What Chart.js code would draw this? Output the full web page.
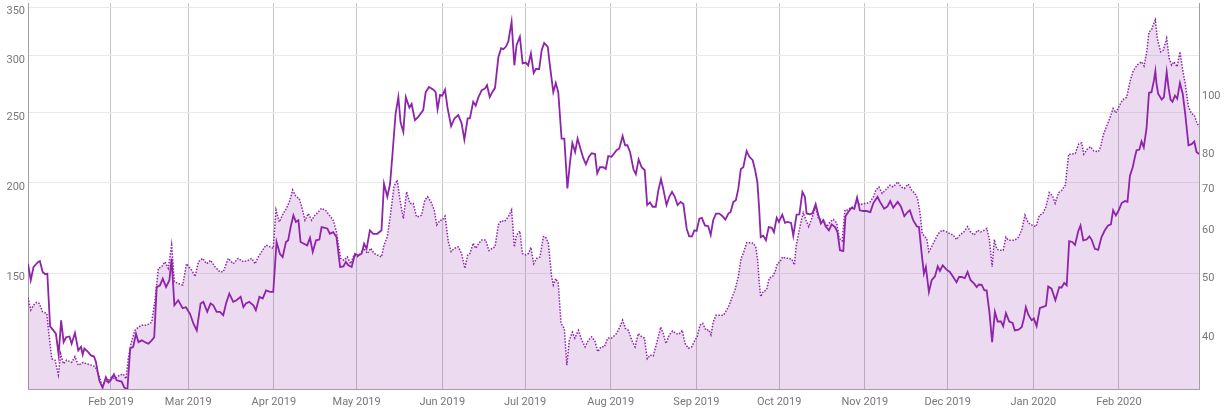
<!DOCTYPE html>
<html>
<head>
<meta charset="utf-8">
<script src="https://cdn.jsdelivr.net/npm/chart.js@4.4.1/dist/chart.umd.min.js"></script>
<style>
  html, body { margin: 0; padding: 0; background: #fff; }
  #wrap { width: 1224px; height: 411px; position: relative; }
</style>
</head>
<body>
<div id="wrap"><canvas id="graph"></canvas></div>
<script>
// x values are days counted from 1 Jan 2019 (day 1 = 2 Jan 2019)
const solidDays = [
  1.0, 2.0, 3.0, 4.7, 5.3, 6.3, 7.2, 8.0, 9.0, 10.2, 11.1, 12.1, 13.0, 13.9, 14.8, 16.0, 16.8, 18.0, 19.2, 20.2,
  20.8, 21.4, 22.8, 23.8, 24.9, 25.6, 26.8, 28.0, 29.2, 30.1, 30.9, 32.1, 33.1, 34.9, 35.8, 36.5, 37.0, 38.0, 39.1, 40.1,
  41.0, 42.2, 43.7, 44.6, 45.8, 46.7, 47.6, 48.8, 49.8, 51.0, 52.2, 53.0, 54.0, 55.4, 57.0, 58.2, 59.7, 60.9, 62.1, 63.5,
  64.5, 65.9, 67.1, 68.1, 69.3, 70.5, 71.7, 72.7, 73.9, 75.3, 76.5, 78.0, 79.0, 79.9, 81.1, 82.6, 83.5, 84.8, 86.0, 87.2,
  88.6, 89.8, 91.0, 92.2, 93.2, 94.4, 95.2, 96.1, 97.1, 98.0, 98.9, 99.7, 100.9, 102.1, 103.1, 104.1, 105.3, 106.5, 107.3, 108.5,
  109.4, 110.3, 111.5, 112.7, 114.0, 115.2, 116.1, 117.0, 118.2, 119.4, 120.6, 121.8, 122.7, 123.6, 124.8, 126.0, 127.5, 129.0, 129.9, 131.1,
  132.1, 133.0, 134.1, 135.1, 135.9, 136.9, 137.8, 139.1, 139.9, 141.1, 142.3, 144.1, 145.0, 146.2, 147.8, 148.6, 149.3, 150.2, 151.0, 152.0,
  152.9, 154.2, 155.4, 156.8, 158.0, 159.0, 160.2, 161.0, 162.2, 163.1, 164.1, 165.3, 166.5, 167.2, 168.2, 169.1, 170.1, 171.3, 172.3, 173.1,
  174.0, 174.9, 176.1, 177.1, 177.9, 179.1, 180.1, 181.2, 182.1, 183.1, 184.1, 184.9, 186.1, 187.0, 187.9, 189.2, 190.0, 191.2, 192.1, 193.0,
  194.2, 195.2, 196.3, 197.2, 198.1, 199.1, 200.0, 201.2, 202.1, 203.0, 204.1, 205.1, 206.3, 207.1, 208.1, 209.3, 210.2, 211.1, 212.3, 214.1,
  215.1, 216.3, 217.2, 218.0, 219.0, 220.2, 221.1, 222.1, 223.2, 224.3, 225.2, 226.2, 227.2, 228.3, 229.2, 230.2, 231.0, 232.2, 233.2, 234.2,
  235.2, 236.2, 237.3, 238.3, 239.5, 240.4, 241.4, 242.3, 243.1, 244.1, 245.0, 246.1, 247.3, 248.2, 249.1, 250.1, 251.3, 252.5, 253.5, 254.6,
  255.4, 256.4, 257.3, 258.2, 259.1, 260.0, 261.2, 262.2, 263.4, 264.3, 265.1, 265.7, 266.3, 267.2, 268.2, 269.2, 270.3, 271.1, 272.1, 272.9,
  274.1, 275.1, 276.0, 277.3, 278.1, 279.3, 280.3, 281.4, 282.3, 282.9, 284.1, 285.0, 286.2, 287.2, 288.1, 289.0, 289.8, 291.0, 292.0, 293.2,
  294.1, 295.0, 296.2, 297.0, 298.0, 299.2, 300.2, 301.2, 302.2, 303.4, 304.6, 306.0, 307.1, 308.6, 309.5, 311.0, 312.2, 313.2, 314.3, 315.9,
  317.1, 318.3, 319.5, 320.3, 321.5, 322.8, 323.6, 324.6, 325.4, 326.1, 327.2, 328.2, 329.4, 330.4, 331.2, 332.2, 333.6, 334.8, 336.0, 337.2,
  338.1, 339.0, 340.2, 341.2, 342.3, 343.6, 344.5, 345.3, 346.3, 347.3, 348.1, 349.1, 350.1, 351.1, 352.1, 353.3, 354.1, 355.1, 356.3, 357.5,
  358.3, 359.6, 360.8, 361.6, 362.3, 363.3, 364.4, 365.2, 366.2, 367.4, 368.6, 369.6, 370.4, 371.6, 373.0, 374.4, 375.2, 376.2, 377.1, 378.0,
  379.1, 380.1, 381.3, 382.1, 383.1, 384.3, 385.3, 386.1, 387.3, 388.5, 389.7, 390.9, 392.1, 393.1, 393.9, 394.9, 395.8, 397.0, 398.2, 399.1,
  400.0, 401.0, 401.8, 402.4, 403.4, 404.2, 405.0, 406.0, 406.9, 407.8, 408.7, 409.2, 409.6, 410.2, 411.5, 412.3, 413.3, 414.0, 414.7, 415.4,
  416.3, 417.1, 418.1, 419.1, 420.0, 421.2, 422.3, 423.3, 424.1, 425.0
];
const solidValues = [
  154.5, 146.6, 152.9, 155.4, 155.8, 150.5, 149.4, 149.7, 126.5, 124.9, 123.6, 115.6, 129.0, 120.3, 122.2, 122.5, 119.7, 123.9, 117.2, 118.5,
  115.6, 117.9, 116.5, 115.3, 114.9, 112.9, 106.5, 104.0, 107.6, 105.8, 106.5, 108.6, 106.5, 106.1, 104.2, 103.6, 103.6, 117.9, 118.5, 123.6,
  120.3, 121.0, 120.1, 119.7, 121.0, 122.2, 143.4, 144.2, 147.3, 143.4, 146.6, 157.0, 135.3, 137.5, 134.1, 134.5, 131.6, 127.6, 124.9, 136.1,
  136.8, 132.5, 136.1, 135.3, 132.5, 132.5, 131.1, 136.1, 140.4, 136.8, 137.5, 139.0, 134.5, 136.1, 136.8, 135.3, 133.2, 139.0, 138.3, 141.9,
  141.2, 141.2, 165.6, 159.5, 157.8, 165.6, 166.5, 173.7, 180.3, 176.6, 177.5, 165.6, 164.7, 163.8, 167.8, 160.4, 166.5, 166.9, 173.7, 173.3,
  172.8, 170.0, 170.9, 168.2, 152.9, 153.2, 155.4, 153.7, 152.9, 159.5, 158.6, 159.5, 164.7, 162.0, 171.9, 170.0, 170.0, 171.9, 199.4, 191.3,
  199.4, 219.8, 249.5, 262.9, 242.6, 235.3, 262.9, 254.3, 257.2, 244.3, 246.9, 252.2, 267.1, 271.6, 269.2, 267.1, 253.0, 264.8, 264.2, 269.2,
  254.3, 239.6, 245.6, 248.3, 241.8, 229.6, 245.6, 245.6, 259.0, 255.9, 262.9, 268.8, 270.3, 273.1, 262.9, 267.1, 270.8, 298.3, 307.3, 306.4,
  308.7, 313.7, 334.3, 291.0, 310.3, 318.8, 292.8, 293.5, 291.0, 302.2, 283.9, 287.6, 287.6, 305.4, 312.6, 308.7, 290.3, 267.1, 275.1, 267.1,
  230.3, 230.3, 196.4, 212.6, 227.1, 220.7, 230.3, 221.9, 216.2, 212.3, 217.3, 219.8, 219.3, 206.1, 210.2, 210.2, 209.0, 217.8, 217.3, 221.9,
  223.2, 232.3, 225.5, 225.5, 220.7, 209.0, 205.6, 215.5, 210.2, 208.2, 186.3, 187.9, 185.3, 185.3, 194.9, 202.5, 196.3, 186.3, 191.3, 194.3,
  191.3, 186.3, 188.2, 186.9, 172.8, 168.6, 168.6, 171.9, 171.6, 178.4, 178.8, 174.6, 174.1, 169.4, 177.5, 181.3, 181.3, 179.8, 177.9, 181.3,
  182.2, 188.2, 189.2, 196.3, 209.0, 210.2, 221.3, 217.3, 215.0, 208.2, 200.4, 185.3, 168.2, 169.0, 166.5, 173.7, 173.3, 170.9, 179.0, 176.6,
  180.7, 176.0, 176.6, 176.0, 169.0, 180.7, 180.8, 194.3, 191.3, 181.4, 180.9, 181.4, 186.9, 180.3, 175.6, 177.5, 174.1, 171.9, 175.2, 173.7,
  170.9, 161.3, 160.9, 179.8, 182.2, 184.7, 184.1, 190.9, 183.2, 182.8, 182.8, 182.2, 187.5, 191.3, 188.2, 184.1, 185.5, 188.7, 184.7, 188.2,
  185.3, 179.8, 182.2, 183.2, 177.5, 174.1, 173.7, 159.4, 149.7, 152.9, 141.2, 146.6, 148.4, 153.2, 151.0, 153.7, 151.6, 150.5, 148.1, 145.7,
  148.1, 148.1, 147.6, 150.5, 146.6, 145.0, 143.4, 144.6, 144.4, 141.9, 141.9, 132.5, 120.3, 132.5, 128.5, 128.5, 126.6, 132.0, 128.5, 127.9,
  124.9, 125.2, 126.2, 129.7, 134.5, 131.1, 129.0, 129.7, 126.6, 134.2, 134.6, 135.2, 143.7, 142.7, 137.5, 143.4, 143.1, 145.3, 144.2, 166.0,
  165.6, 164.1, 171.5, 174.6, 166.5, 166.9, 168.6, 166.9, 162.0, 161.5, 168.2, 171.9, 174.6, 175.2, 183.2, 180.3, 182.8, 187.5, 188.7, 188.2,
  204.6, 210.2, 217.3, 221.9, 222.4, 228.2, 224.0, 237.9, 266.6, 267.1, 277.5, 285.7, 274.6, 265.8, 260.9, 262.9, 284.8, 270.3, 260.9, 259.0,
  264.2, 261.6, 275.1, 265.8, 249.5, 225.5, 226.3, 228.2, 220.7, 219.3
];

const dottedDays = [
  1.0, 2.0, 3.0, 4.1, 5.1, 6.3, 7.8, 8.7, 9.6, 10.8, 12.0, 12.8, 13.8, 15.0, 16.8, 18.0, 19.2, 21.0, 22.2, 24.0,
  25.3, 26.5, 27.7, 28.9, 30.1, 31.3, 32.5, 34.3, 35.5, 36.5, 37.3, 38.3, 39.7, 41.0, 42.2, 44.0, 45.8, 47.0, 48.2, 49.4,
  50.6, 51.8, 53.0, 54.0, 55.4, 57.0, 58.4, 60.3, 61.5, 62.7, 64.2, 65.7, 67.1, 68.7, 70.5, 71.7, 73.5, 75.3, 77.1, 79.0,
  80.8, 82.0, 83.2, 84.4, 85.6, 87.2, 88.6, 89.8, 90.8, 92.0, 93.4, 94.6, 95.9, 96.8, 98.0, 99.2, 100.1, 101.3, 102.5, 103.7,
  104.9, 106.1, 107.3, 108.9, 110.1, 111.5, 112.7, 114.2, 115.4, 116.6, 117.8, 119.0, 120.2, 121.4, 122.6, 123.9, 125.1, 126.3, 127.5, 129.0,
  129.9, 131.1, 132.3, 133.5, 134.7, 135.7, 136.9, 138.1, 139.3, 140.5, 141.7, 142.9, 143.5, 144.7, 145.7, 146.9, 148.1, 149.0, 150.2, 151.0,
  152.0, 153.2, 154.2, 155.4, 156.8, 158.0, 159.2, 160.2, 161.0, 162.2, 163.1, 164.3, 165.3, 166.7, 167.9, 169.1, 170.1, 171.3, 172.3, 173.5,
  174.9, 176.1, 177.1, 177.9, 179.1, 180.0, 181.2, 182.2, 183.1, 184.1, 185.2, 186.4, 187.6, 188.4, 189.4, 190.6, 191.2, 192.1, 193.0, 194.0,
  195.2, 196.1, 197.0, 198.1, 199.0, 200.3, 201.5, 202.7, 203.9, 205.1, 206.3, 207.3, 208.5, 209.7, 210.9, 212.3, 214.1, 215.3, 216.3, 217.3,
  218.4, 219.6, 220.8, 222.0, 223.2, 224.2, 225.2, 226.2, 227.4, 228.6, 230.1, 231.0, 232.0, 233.2, 234.4, 235.6, 236.7, 237.9, 238.9, 240.1,
  241.3, 242.5, 243.3, 244.3, 245.3, 246.5, 247.4, 248.3, 249.1, 250.1, 251.3, 252.8, 254.0, 254.9, 255.8, 257.0, 258.2, 259.2, 260.0, 261.2,
  262.4, 263.6, 264.5, 265.2, 265.8, 266.3, 267.2, 268.4, 269.4, 270.6, 271.5, 272.3, 273.3, 274.2, 275.4, 276.6, 277.6, 278.5, 279.1, 280.0,
  281.0, 281.7, 282.7, 283.7, 285.0, 286.2, 287.2, 288.1, 289.1, 290.2, 291.4, 292.6, 293.8, 294.8, 295.8, 296.8, 297.8, 299.0, 300.2, 301.1,
  302.2, 303.4, 304.6, 305.9, 307.1, 308.0, 309.1, 310.3, 311.5, 313.1, 314.3, 315.9, 317.1, 318.3, 319.7, 320.9, 322.1, 323.1, 324.0, 324.8,
  325.8, 326.4, 327.2, 328.2, 329.4, 330.6, 332.0, 333.6, 334.8, 336.0, 337.2, 338.4, 339.9, 341.2, 342.3, 343.6, 344.8, 346.0, 347.3, 348.2,
  349.1, 350.1, 350.9, 351.8, 352.9, 354.1, 355.1, 355.9, 357.1, 358.4, 359.6, 360.8, 362.0, 363.2, 364.4, 366.0, 367.2, 368.4, 369.6, 370.8,
  372.0, 372.9, 374.2, 375.4, 376.6, 377.8, 379.0, 380.2, 381.4, 382.5, 383.3, 384.5, 385.7, 386.9, 388.5, 389.4, 390.3, 391.5, 392.7, 393.9,
  394.9, 396.1, 397.3, 398.8, 400.0, 401.2, 402.6, 404.2, 405.1, 406.0, 406.9, 407.8, 408.4, 409.2, 409.9, 411.1, 412.1, 413.3, 414.2, 415.1,
  415.9, 417.1, 418.1, 419.1, 420.0, 421.2, 422.3, 423.3, 424.1, 425.0
];
const dottedValues = [
  46.4, 44.3, 45.1, 45.6, 45.4, 44.0, 43.7, 40.0, 36.8, 36.6, 34.6, 37.5, 36.1, 36.6, 36.3, 37.1, 35.9, 36.3, 36.1, 35.9,
  35.7, 34.8, 33.3, 33.7, 33.9, 34.3, 34.1, 34.6, 34.7, 34.1, 36.8, 39.0, 41.0, 41.5, 41.8, 41.8, 42.3, 46.0, 51.9, 52.2,
  53.2, 51.9, 56.7, 49.3, 49.0, 48.7, 52.8, 51.5, 50.3, 53.2, 53.9, 52.8, 53.5, 52.2, 51.2, 51.2, 53.9, 52.8, 53.9, 53.2,
  53.5, 53.9, 52.8, 54.2, 55.3, 56.7, 56.3, 56.0, 64.8, 61.9, 63.9, 65.2, 67.3, 69.9, 68.2, 67.7, 65.6, 62.3, 63.9, 62.3,
  63.5, 64.3, 65.2, 64.6, 63.5, 62.3, 59.6, 53.9, 53.5, 54.2, 52.8, 54.6, 54.2, 54.9, 56.0, 54.9, 56.0, 54.9, 54.6, 54.2,
  56.7, 58.5, 63.9, 70.8, 72.6, 67.3, 62.7, 69.4, 66.4, 66.4, 63.1, 63.3, 63.5, 67.3, 68.1, 66.8, 64.8, 61.2, 62.3, 62.3,
  63.3, 57.4, 55.3, 56.0, 56.3, 54.9, 51.9, 54.6, 54.9, 57.1, 56.0, 57.1, 57.8, 57.8, 55.5, 56.0, 56.3, 61.2, 62.2, 62.0,
  63.1, 64.8, 56.3, 58.9, 59.8, 54.9, 54.6, 54.9, 56.2, 52.8, 53.9, 54.2, 58.5, 58.5, 57.1, 50.3, 48.7, 49.9, 49.0, 42.1,
  41.3, 35.9, 39.5, 40.7, 39.8, 41.0, 39.5, 38.5, 39.5, 40.0, 39.3, 37.8, 38.5, 38.5, 39.8, 39.8, 40.5, 41.5, 42.6, 41.3,
  41.0, 39.5, 38.5, 40.5, 40.0, 39.8, 36.8, 37.3, 37.2, 39.0, 41.5, 40.5, 39.0, 40.3, 40.9, 40.5, 40.4, 41.0, 39.0, 38.3,
  38.5, 39.5, 40.0, 41.8, 42.1, 41.0, 41.1, 40.3, 42.3, 43.4, 43.4, 43.4, 44.3, 45.1, 46.3, 47.8, 50.3, 53.9, 54.9, 57.2,
  57.2, 57.1, 56.3, 53.5, 49.0, 46.6, 47.5, 47.8, 50.0, 50.3, 51.2, 52.8, 53.2, 54.2, 53.9, 53.9, 53.7, 52.6, 56.3, 59.2,
  62.3, 64.1, 62.3, 60.8, 63.1, 65.6, 62.7, 62.5, 62.2, 60.8, 61.9, 62.5, 61.7, 58.1, 57.6, 64.8, 64.8, 65.4, 65.6, 67.4,
  66.0, 66.4, 66.4, 66.8, 68.1, 69.9, 70.7, 69.0, 69.9, 71.2, 70.7, 72.1, 70.7, 70.3, 71.5, 69.9, 69.0, 67.7, 64.0, 59.2,
  58.5, 58.1, 55.3, 56.3, 57.8, 59.2, 60.0, 59.6, 59.2, 58.9, 57.9, 58.9, 59.6, 60.8, 59.6, 58.9, 60.0, 59.6, 60.0, 60.4,
  57.9, 52.2, 57.9, 55.8, 55.6, 55.6, 58.4, 57.8, 57.7, 57.8, 58.4, 60.0, 63.5, 61.7, 61.2, 60.8, 63.5, 63.9, 65.6, 69.2,
  68.3, 66.5, 69.2, 69.9, 71.2, 80.1, 80.1, 80.3, 83.2, 83.6, 80.1, 81.6, 82.4, 81.1, 80.8, 82.4, 86.1, 88.9, 91.8, 95.3,
  93.7, 96.2, 98.4, 99.4, 105.5, 110.0, 112.4, 113.8, 112.0, 117.5, 127.5, 128.4, 130.9, 133.4, 124.4, 118.2, 119.0, 124.4, 115.3, 112.4,
  113.8, 111.7, 118.2, 110.3, 104.8, 95.9, 93.5, 92.9, 90.6, 88.9
];

const monthDays = [31, 59, 90, 120, 151, 181, 212, 243, 273, 304, 334, 365, 396];
const monthLabels = ['Feb 2019', 'Mar 2019', 'Apr 2019', 'May 2019', 'Jun 2019', 'Jul 2019', 'Aug 2019',
  'Sep 2019', 'Oct 2019', 'Nov 2019', 'Dec 2019', 'Jan 2020', 'Feb 2020'];
const leftTicks = [150, 200, 250, 300, 350];
const rightTicks = [40, 50, 60, 70, 80, 100];

const purple = 'rgb(142, 36, 170)';
const tickFont = { family: 'Roboto', size: 11 };
const tickColor = '#777';

function fixWidth(w) {
  return (scale) => {
    scale.width = w;
    scale.paddingTop = 0;
    scale.paddingBottom = 0;
  };
}

window.addEventListener('DOMContentLoaded', () => {
  const graph = document.getElementById('graph');
  new Chart(graph, {
    type: 'line',
    data: {
      datasets: [
        {
          label: 'Price',
          data: solidDays.map((d, i) => ({ x: d, y: solidValues[i] })),
          yAxisID: 'yLeft',
          borderColor: purple,
          borderWidth: 1.8,
          pointRadius: 0,
          fill: false,
          tension: 0,
          order: 0
        },
        {
          label: 'Index',
          data: dottedDays.map((d, i) => ({ x: d, y: dottedValues[i] })),
          yAxisID: 'yRight',
          borderColor: purple,
          borderWidth: 1.5,
          borderDash: [1.5, 1.5],
          backgroundColor: 'rgba(142, 36, 170, 0.17)',
          pointRadius: 0,
          fill: 'start',
          tension: 0,
          order: 1
        }
      ]
    },
    options: {
      responsive: true,
      maintainAspectRatio: false,
      animation: false,
      layout: { padding: { top: 3, left: 0, right: 0, bottom: 0 } },
      plugins: {
        legend: { display: false },
        tooltip: { enabled: false }
      },
      scales: {
        x: {
          type: 'linear',
          min: 1,
          max: 425,
          afterBuildTicks: (scale) => { scale.ticks = monthDays.map(d => ({ value: d })); },
          afterFit: (scale) => {
            scale.height = 22;
            scale.paddingLeft = 0;
            scale.paddingRight = 0;
          },
          ticks: {
            autoSkip: false,
            maxRotation: 0,
            padding: 7,
            color: tickColor,
            font: tickFont,
            callback: (v) => monthLabels[monthDays.indexOf(v)]
          },
          grid: { color: '#c6c6c6', drawTicks: false },
          border: { display: true, color: '#a0a0a0' }
        },
        yLeft: {
          type: 'logarithmic',
          position: 'left',
          min: 103.6,
          max: 355,
          bounds: 'data',
          afterBuildTicks: (scale) => { scale.ticks = leftTicks.map(v => ({ value: v })); },
          afterFit: fixWidth(28),
          ticks: {
            autoSkip: false,
            padding: 3,
            labelOffset: 4,
            color: tickColor,
            font: tickFont,
            callback: (v) => String(v)
          },
          grid: { color: '#e8e8e8', drawTicks: false },
          border: { display: true, color: '#a0a0a0' }
        },
        yRight: {
          type: 'logarithmic',
          position: 'right',
          min: 32.8,
          max: 142.3,
          bounds: 'data',
          afterBuildTicks: (scale) => { scale.ticks = rightTicks.map(v => ({ value: v })); },
          afterFit: fixWidth(25),
          ticks: {
            autoSkip: false,
            padding: 3,
            color: tickColor,
            font: tickFont,
            callback: (v) => String(v)
          },
          grid: { display: false, drawTicks: false },
          border: { display: true, color: '#a0a0a0' }
        }
      }
    }
  });
});
</script>
</body>
</html>
